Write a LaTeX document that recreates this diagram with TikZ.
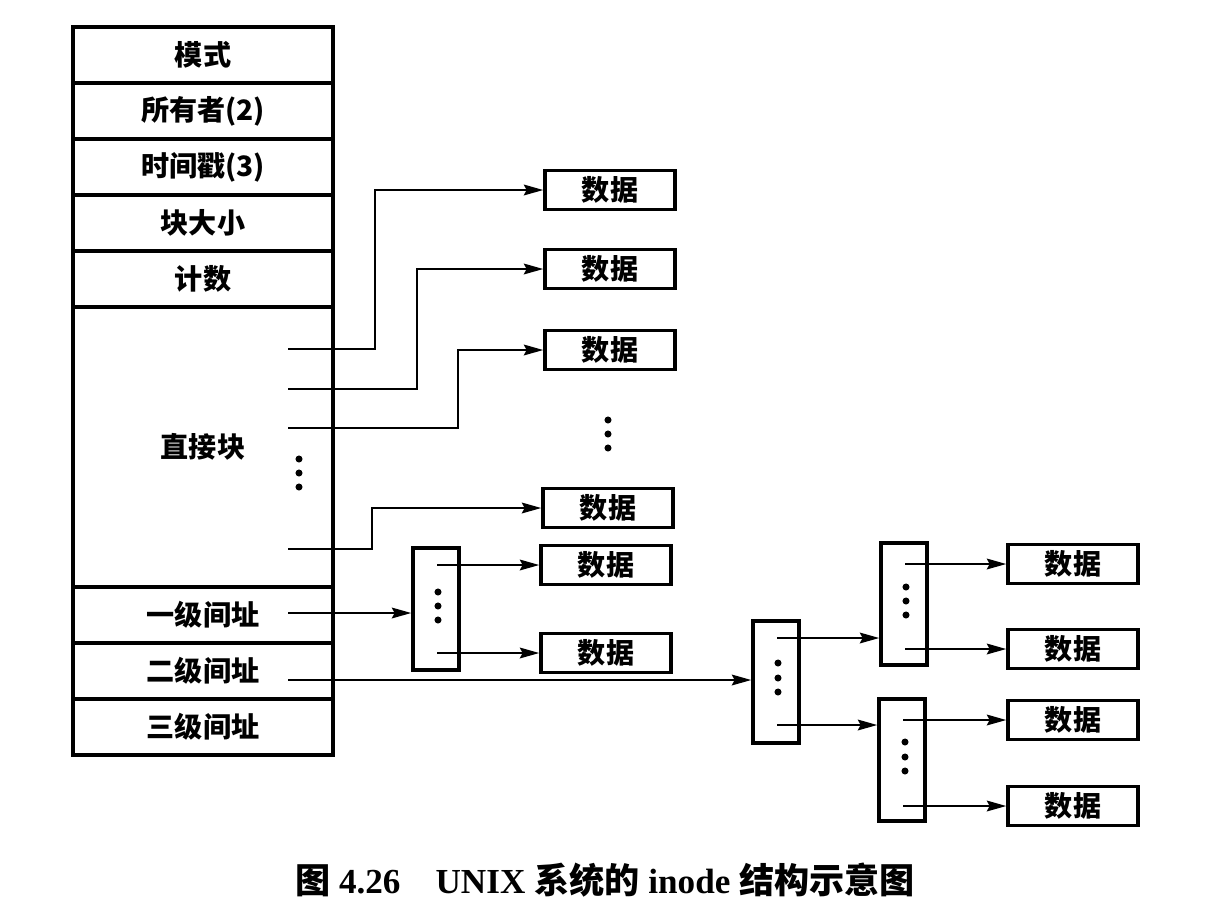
\documentclass[tikz,border=0pt]{standalone}
\usepackage{fontspec}
\setmainfont{Liberation Serif}
\newfontfamily\cjk{Noto Sans CJK SC}
\usetikzlibrary{arrows.meta}
\tikzstyle{field} = [
	rectangle,
	minimum width=5.2cm,
	minimum height=1.12cm,
	text centered,
	draw=black,
	line width=1.9pt,
	font=\cjk\bfseries\fontsize{16}{19}\selectfont
]
\tikzstyle{data} = [
	rectangle,
	minimum width=2.6cm,
	minimum height=0.74cm,
	text centered,
	draw=black,
	line width=1.9pt,
	font=\cjk\bfseries\fontsize{16}{19}\selectfont
]
\tikzstyle{ptrblock} = [
	rectangle,
	minimum width=0.92cm,
	minimum height=2.44cm,
	draw=black,
	line width=1.9pt
]
\tikzstyle{arrow} = [line width=1.6pt, -{Stealth[length=11pt,width=6pt,inset=1.5pt]}]

\begin{document}
\begin{tikzpicture}[x=0.02cm, y=-0.02cm]
        \useasboundingbox (0,0) rectangle (1218,914);
        % inode table
        \node (mode)   [field] at (203,55)  {模式};
        \node (owner)  [field] at (203,111) {所有者(2)};
        \node (stamp)  [field] at (203,167) {时间戳(3)};
        \node (bsize)  [field] at (203,223) {块大小};
        \node (count)  [field] at (203,279) {计数};
        \node (direct) [field, minimum height=5.6cm] at (203,447) {直接块};
        \node (single) [field] at (203,615) {一级间址};
        \node (double) [field] at (203,671) {二级间址};
        \node (triple) [field] at (203,727) {三级间址};
        % direct blocks
        \node (data1) [data] at (610,190) {数据};
        \node (data2) [data] at (610,269) {数据};
        \node (data3) [data] at (610,350) {数据};
        \node (data4) [data] at (608,508) {数据};
        \coordinate (d1) at (288,349);
        \coordinate (d2) at (288,389);
        \coordinate (d3) at (288,428);
        \coordinate (d4) at (288,549);
        \draw [arrow] (d1) -- ++(87,0) |- (data1);
        \draw [arrow] (d2) -- ++(129,0) |- (data2);
        \draw [arrow] (d3) -- ++(170,0) |- (data3);
        \draw [arrow] (d4) -- ++(84,0) |- (data4);
        \foreach \y in {459,473,487} \fill (299,\y) circle (2pt);
        \foreach \y in {420,434,448} \fill (608,\y) circle (2pt);
        % single indirect
        \node (ind1) [ptrblock] at (436,609) {};
        \node (data5) [data] at (606,565) {数据};
        \node (data6) [data] at (606,653) {数据};
        \coordinate (a1) at (288,613);
        \coordinate (s1) at (437,565);
        \coordinate (s2) at (437,653);
        \draw [arrow] (a1) -- (a1 -| ind1.west);
        \draw [arrow] (s1) -- (s1 -| data5.west);
        \draw [arrow] (s2) -- (s2 -| data6.west);
        \foreach \y in {592,606,620} \fill (438,\y) circle (2pt);
        % double indirect
        \node (ind2) [ptrblock] at (776,682) {};
        \node (ind2a) [ptrblock] at (904,604) {};
        \node (ind2b) [ptrblock] at (902,760) {};
        \node (data7) [data] at (1073,564) {数据};
        \node (data8) [data] at (1073,649) {数据};
        \node (data9) [data] at (1073,720) {数据};
        \node (data10) [data] at (1073,806) {数据};
        \coordinate (a2) at (288,680);
        \coordinate (t1) at (777,638);
        \coordinate (t2) at (777,725);
        \coordinate (u1) at (905,564);
        \coordinate (u2) at (905,649);
        \coordinate (v1) at (903,720);
        \coordinate (v2) at (903,806);
        \draw [arrow] (a2) -- (a2 -| ind2.west);
        \draw [arrow] (t1) -- (t1 -| ind2a.west);
        \draw [arrow] (t2) -- (t2 -| ind2b.west);
        \draw [arrow] (u1) -- (u1 -| data7.west);
        \draw [arrow] (u2) -- (u2 -| data8.west);
        \draw [arrow] (v1) -- (v1 -| data9.west);
        \draw [arrow] (v2) -- (v2 -| data10.west);
        \foreach \y in {663,678,692} \fill (778,\y) circle (2pt);
        \foreach \y in {587,601,615} \fill (906,\y) circle (2pt);
        \foreach \y in {742,757,771} \fill (905,\y) circle (2pt);
        % caption
        \node (caption) at (605,880) {\fontsize{20}{24}\selectfont
          {\cjk\bfseries 图} \textbf{4.26}\hspace{1em}\textbf{UNIX}
          {\cjk\bfseries 系统的} \textbf{inode} {\cjk\bfseries 结构示意图}};
      \end{tikzpicture}
\end{document}
